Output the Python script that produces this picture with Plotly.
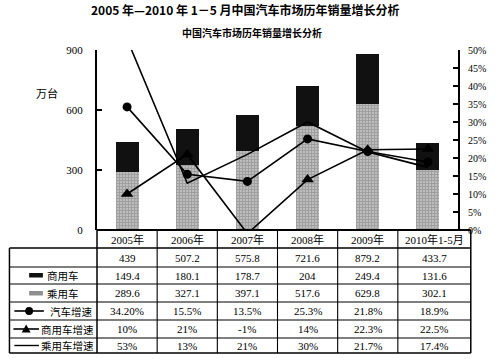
import plotly.graph_objects as go

# ---------------- data ----------------
years = ["2005年", "2006年", "2007年", "2008年", "2009年", "2010年1-5月"]
total = [439, 507.2, 575.8, 721.6, 879.2, 433.7]
commercial = [149.4, 180.1, 178.7, 204, 249.4, 131.6]
passenger = [289.6, 327.1, 397.1, 517.6, 629.8, 302.1]
car_growth = [34.2, 15.5, 13.5, 25.3, 21.8, 18.9]
commercial_growth = [10, 21, -1, 14, 22.3, 22.5]
passenger_growth = [53, 13, 21, 30, 21.7, 17.4]
car_growth_text = ["34.20%", "15.5%", "13.5%", "25.3%", "21.8%", "18.9%"]
left_ticks = [0, 300, 600, 900]
right_ticks = [0, 5, 10, 15, 20, 25, 30, 35, 40, 45, 50]
row_names = ["商用车", "乘用车", "汽车增速", "商用车增速", "乘用车增速"]

title = "2005 年—2010 年 1－5 月中国汽车市场历年销量增长分析"
subtitle = "中国汽车市场历年销量增长分析"

# ---------------- geometry helpers ----------------
W, H = 498, 359
L, R, T, B = 97, 464, 50, 230
def px(x):
    return (x - L) / (R - L)
def py(y):
    return (B - y) / (B - T)

SERIF = "Liberation Serif, Times New Roman, Noto Sans CJK SC, serif"
CJK = "Noto Sans CJK SC, sans-serif"

fig = go.Figure()
fig.add_bar(x=years, y=passenger, width=0.38, name="乘用车",
            marker=dict(color="#b8b8b8", line=dict(width=0),
                        pattern=dict(shape="+", fgcolor="#7c7c7c", bgcolor="#bdbdbd", size=3, solidity=0.5)))
fig.add_bar(x=years, y=commercial, width=0.38, name="商用车",
            marker=dict(color="#111111", line=dict(width=0)))
fig.add_scatter(x=years, y=passenger_growth, yaxis="y2", mode="lines", name="乘用车增速",
                line=dict(color="black", width=1.6), cliponaxis=False)
fig.add_scatter(x=years, y=car_growth, yaxis="y2", mode="lines+markers", name="汽车增速",
                line=dict(color="black", width=1.6), marker=dict(symbol="circle", size=9, color="black"),
                cliponaxis=False)
fig.add_scatter(x=years, y=commercial_growth, yaxis="y2", mode="lines+markers", name="商用车增速",
                line=dict(color="black", width=1.6), marker=dict(symbol="triangle-up", size=11, color="black"),
                cliponaxis=False)

shapes = []
def hline(x0, x1, y, w=1.2):
    shapes.append(dict(type="line", xref="paper", yref="paper", x0=px(x0), x1=px(x1), y0=py(y), y1=py(y),
                       line=dict(color="black", width=w)))
def vline(x, y0, y1, w=1.2):
    shapes.append(dict(type="line", xref="paper", yref="paper", x0=px(x), x1=px(x), y0=py(y0), y1=py(y1),
                       line=dict(color="black", width=w)))

rows_y = [230, 248, 267, 284, 302, 320, 338, 353]
TR = 477
hline(L, TR, 230, 2.2)
for yy in rows_y[1:]:
    hline(8, TR, yy, 1.5 if yy in (248, 353) else 1.1)
vline(8, 248, 353, 1.5)
vline(L, 230, 353, 1.5)
n = len(years)
for i in range(1, n):
    xb = L + (R - L) * i / n
    vline(xb, 230, 353, 1.1)
vline(TR, 230, 353, 1.5)

# legend symbols in first column
shapes.append(dict(type="rect", xref="paper", yref="paper", x0=px(28), x1=px(42), y0=py(277.5), y1=py(273),
                   fillcolor="#111111", line=dict(width=0)))
shapes.append(dict(type="rect", xref="paper", yref="paper", x0=px(28), x1=px(42), y0=py(295.5), y1=py(291),
                   fillcolor="#8f8f8f", line=dict(width=0)))
shapes.append(dict(type="line", xref="paper", yref="paper", x0=px(13), x1=px(43), y0=py(311), y1=py(311),
                   line=dict(color="black", width=1.6)))
shapes.append(dict(type="circle", xref="paper", yref="paper", x0=px(24), x1=px(32), y0=py(315), y1=py(307),
                   fillcolor="black", line=dict(width=0)))
shapes.append(dict(type="line", xref="paper", yref="paper", x0=px(12), x1=px(38), y0=py(329), y1=py(329),
                   line=dict(color="black", width=1.6)))
tri = "M {0},{1} L {2},{3} L {4},{5} Z".format(px(20.5), py(332.5), px(29.5), py(332.5), px(25), py(324.5))
shapes.append(dict(type="path", xref="paper", yref="paper", path=tri, fillcolor="black", line=dict(width=0)))
shapes.append(dict(type="line", xref="paper", yref="paper", x0=px(13), x1=px(38), y0=py(345.5), y1=py(345.5),
                   line=dict(color="black", width=1.4)))

ann = []
def txt(x, y, s, size=11, family=SERIF, xref="paper", bold=False):
    ann.append(dict(x=x, y=py(y), xref=xref, yref="paper", text=("<b>%s</b>" % s) if bold else s,
                    showarrow=False, xanchor="center", yanchor="middle",
                    font=dict(family=family, size=size, color="black")))

txt(px(248), 10, title, size=12, family=CJK, bold=True)
txt(px(255), 33, subtitle, size=10, family=CJK, bold=True)
txt(px(46), 93, "万台", size=11, family=CJK)

fmt = lambda v: f"{v:g}"
pct = lambda v: f"{v:g}%"
table_rows = [
    (257.5, [fmt(v) for v in total]),
    (275.5, [fmt(v) for v in commercial]),
    (293, [fmt(v) for v in passenger]),
    (311, car_growth_text),
    (329, [pct(v) for v in commercial_growth]),
    (345.5, [pct(v) for v in passenger_growth]),
]
last_cx = px((L + (R - L) * (n - 1) / n + TR) / 2)
for i, yr in enumerate(years):
    if i < n - 1:
        txt(yr, 239, yr, size=11, xref="x")
    else:
        txt(last_cx, 239, yr, size=11)
for yy, vals in table_rows:
    for i, s in enumerate(vals):
        if i < n - 1:
            txt(years[i], yy, s, size=11, xref="x")
        else:
            txt(last_cx, yy, s, size=11)

legend_centers = [(62.5, 275.5), (62.5, 293), (71, 311), (67, 329), (67, 345.5)]
for name, (cx, cy) in zip(row_names, legend_centers):
    txt(px(cx), cy, name, size=10.5, family=CJK)

fig.update_layout(
    width=W, height=H,
    margin=dict(l=L, r=W - R, t=T, b=H - B, pad=0),
    paper_bgcolor="white", plot_bgcolor="white",
    showlegend=False, barmode="stack",
    xaxis=dict(type="category", range=[-0.5, n - 0.5], showticklabels=False, ticks="",
               showgrid=False, zeroline=False, showline=False),
    yaxis=dict(range=[0, 900], tickvals=left_ticks, ticks="inside", ticklen=5, tickwidth=1.5,
               tickcolor="black", showline=True, linewidth=2, linecolor="black", showgrid=False,
               zeroline=False, tickfont=dict(family=SERIF, size=11, color="black"), ticklabelstandoff=10),
    yaxis2=dict(range=[0, 50], overlaying="y", side="right", tickvals=right_ticks,
                ticktext=[f"{v}%" for v in right_ticks], ticks="inside", ticklen=5, tickwidth=1.5,
                tickcolor="black", showline=True, linewidth=2, linecolor="black", showgrid=False,
                zeroline=False, tickfont=dict(family=SERIF, size=10, color="black"), ticklabelstandoff=6),
    shapes=shapes, annotations=ann,
)

fig.write_html("out.html", config={"displayModeBar": False},
               post_script="document.body.style.margin='0';document.body.style.padding='0';")
